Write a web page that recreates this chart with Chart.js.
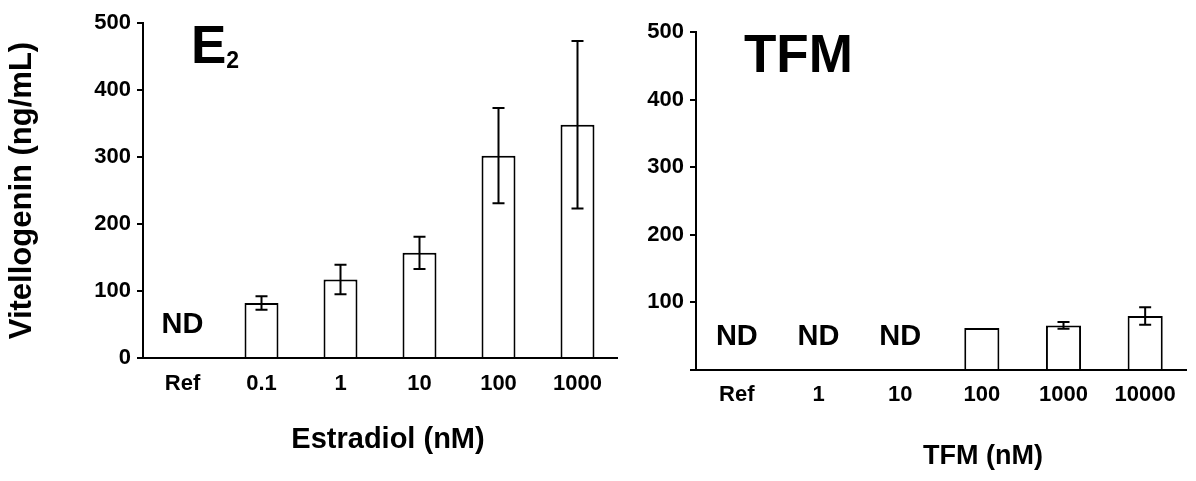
<!DOCTYPE html>
<html>
<head>
<meta charset="utf-8">
<script src="https://cdn.jsdelivr.net/npm/chart.js@4.4.0/dist/chart.umd.min.js"></script>
<style>
  html, body { margin: 0; padding: 0; background: #fff; }
  #wrap { position: relative; width: 1196px; height: 481px; }
  canvas { position: absolute; top: 0; }
</style>
</head>
<body>
<div id="wrap">
  <canvas id="e2Chart" width="640" height="481" style="left:0"></canvas>
  <canvas id="tfmChart" width="556" height="481" style="left:640px"></canvas>
</div>
<script>
// Estradiol panel
const e2Labels = ['Ref', '0.1', '1', '10', '100', '1000'];
const e2Means = [null, 82, 117, 157, 302, 348];
const e2Errors = [null, 10, 22, 24, 71, 125];

// TFM panel
const tfmLabels = ['Ref', '1', '10', '100', '1000', '10000'];
const tfmMeans = [null, null, null, 62, 66, 80];
const tfmErrors = [null, null, null, 0, 5, 13];

const yTicks = [0, 100, 200, 300, 400, 500];
const ndLevel = 37; // where the "ND" text sits (ng/mL)

Chart.defaults.font.family = '"Liberation Sans", Arial, sans-serif';
Chart.defaults.color = '#000';

// error bars, ND marks, panel label and x title
const extras = {
  id: 'extras',
  afterDatasetsDraw(chart, args, opts) {
    const ctx = chart.ctx;
    const xs = chart.scales.x, ys = chart.scales.y;
    const area = chart.chartArea;
    ctx.save();
    ctx.strokeStyle = '#000';
    ctx.fillStyle = '#000';
    ctx.lineWidth = 2;
    opts.means.forEach((m, i) => {
      const cx = xs.getPixelForValue(i);
      if (m === null) {
        ctx.font = 'bold 29px "Liberation Sans"';
        ctx.textAlign = 'center';
        ctx.textBaseline = 'alphabetic';
        ctx.fillText('ND', cx, ys.getPixelForValue(ndLevel));
        return;
      }
      const e = opts.errors[i];
      if (!e) return;
      const top = ys.getPixelForValue(m + e);
      const bot = ys.getPixelForValue(m - e);
      ctx.beginPath();
      ctx.moveTo(cx, top); ctx.lineTo(cx, bot);
      ctx.moveTo(cx - 6, top); ctx.lineTo(cx + 6, top);
      ctx.moveTo(cx - 6, bot); ctx.lineTo(cx + 6, bot);
      ctx.stroke();
    });

    // panel label
    ctx.textAlign = 'left';
    ctx.textBaseline = 'alphabetic';
    ctx.font = 'bold 53px "Liberation Sans"';
    const px = area.left + 48, py = area.top + 40;
    ctx.fillText(opts.label, px, py);
    if (opts.sub) {
      const w = ctx.measureText(opts.label).width;
      ctx.font = 'bold 23px "Liberation Sans"';
      ctx.fillText(opts.sub, px + w, py + 5);
    }

    // x axis title
    ctx.textAlign = 'center';
    ctx.textBaseline = 'middle';
    ctx.font = 'bold ' + opts.xTitleSize + 'px "Liberation Sans"';
    ctx.fillText(opts.xTitle, (area.left + area.right) / 2 + opts.xTitleShift, opts.xTitleY);
    ctx.restore();
  }
};

function makeChart(id, labels, means, errors, cfg) {
  return new Chart(document.getElementById(id), {
    type: 'bar',
    data: {
      labels: labels,
      datasets: [{
        data: means,
        backgroundColor: '#fff',
        borderColor: '#000',
        borderWidth: 2,
        barPercentage: 0.43,
        categoryPercentage: 1
      }]
    },
    options: {
      responsive: false,
      animation: false,
      layout: { padding: cfg.padding },
      plugins: {
        legend: { display: false },
        tooltip: { enabled: false },
        extras: {
          means: means,
          errors: errors,
          label: cfg.label,
          sub: cfg.sub,
          xTitle: cfg.xTitle,
          xTitleSize: cfg.xTitleSize,
          xTitleShift: cfg.xTitleShift,
          xTitleY: cfg.xTitleY
        }
      },
      scales: {
        x: {
          grid: { display: false, drawTicks: false },
          border: { color: '#000', width: 2 },
          ticks: { padding: cfg.xPad, font: { size: 22, weight: 'bold' } },
          afterFit: s => { s.height = cfg.xHeight; }
        },
        y: {
          min: 0,
          max: 500,
          afterBuildTicks: s => { s.ticks = yTicks.map(v => ({ value: v })); },
          ticks: {
            padding: 6,
            font: { size: 22, weight: 'bold' },
            callback: v => (v === 0 && !cfg.showZero) ? '' : v
          },
          grid: { drawOnChartArea: false, tickLength: 6, color: '#000', lineWidth: 2 },
          border: { color: '#000', width: 2 },
          title: cfg.yTitle ? {
            display: true,
            text: cfg.yTitle,
            font: { size: 31, weight: 'bold' },
            padding: { top: 4, bottom: 0 }
          } : { display: false },
          afterFit: s => { s.width = cfg.yWidth; }
        }
      }
    },
    plugins: [extras]
  });
}

makeChart('e2Chart', e2Labels, e2Means, e2Errors, {
  padding: { top: 23, right: 23, bottom: 0, left: 0 },
  yWidth: 143,
  xHeight: 123,
  xPad: 13,
  showZero: true,
  yTitle: 'Vitellogenin (ng/mL)',
  label: 'E',
  sub: '2',
  xTitle: 'Estradiol (nM)',
  xTitleSize: 29,
  xTitleShift: 8,
  xTitleY: 440
});

makeChart('tfmChart', tfmLabels, tfmMeans, tfmErrors, {
  padding: { top: 32, right: 10, bottom: 0, left: 0 },
  yWidth: 56,
  xHeight: 111,
  xPad: 12,
  showZero: false,
  yTitle: null,
  label: 'TFM',
  sub: null,
  xTitle: 'TFM (nM)',
  xTitleSize: 27,
  xTitleShift: 42,
  xTitleY: 457
});
</script>
</body>
</html>
